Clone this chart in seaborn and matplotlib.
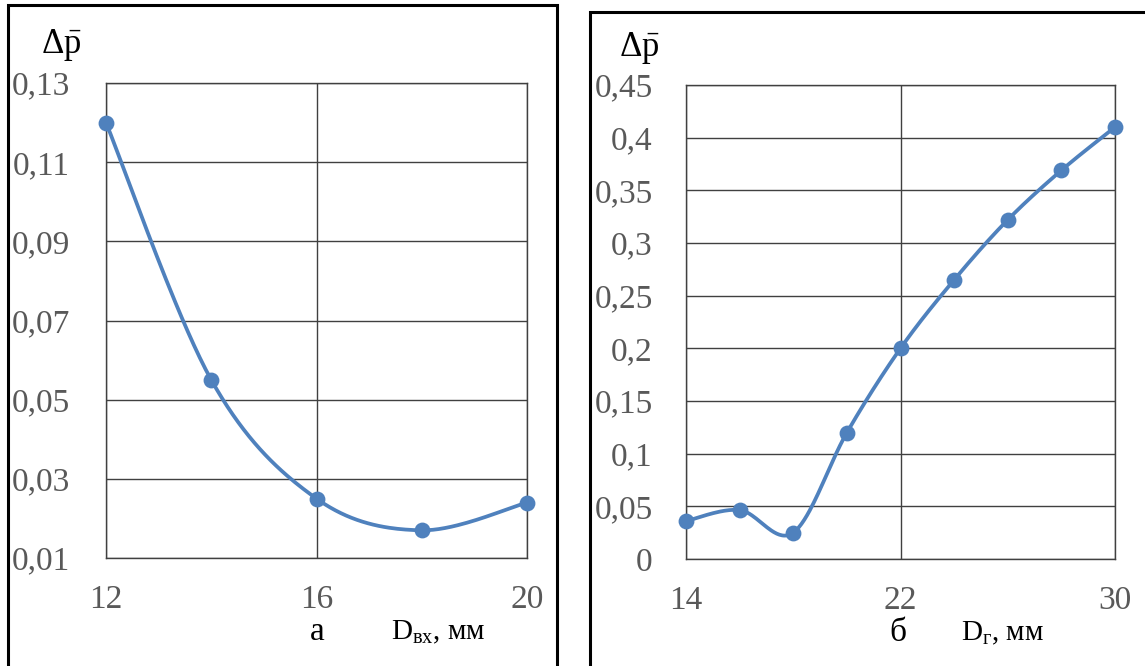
import numpy as np
import pandas as pd
import matplotlib
matplotlib.use("Agg")
import matplotlib.pyplot as plt
from matplotlib.patches import Rectangle
import seaborn as sns

# data
d_in = [12, 14, 16, 18, 20]
dp_in = [0.120, 0.055, 0.025, 0.017, 0.024]

d_g = [14, 16, 18, 20, 22, 24, 26, 28, 30]
dp_g = [0.036, 0.0465, 0.025, 0.120, 0.200, 0.265, 0.322, 0.369, 0.410]

yticks_a = [0.01, 0.03, 0.05, 0.07, 0.09, 0.11, 0.13]
yticks_b = [0, 0.05, 0.1, 0.15, 0.2, 0.25, 0.3, 0.35, 0.4, 0.45]

sns.set_theme(style="white")
plt.rcParams['font.family'] = ['Liberation Serif', 'DejaVu Serif']
plt.rcParams['mathtext.fontset'] = 'custom'
plt.rcParams['mathtext.rm'] = 'Liberation Serif'
plt.rcParams['mathtext.it'] = 'Liberation Serif:italic'

BLUE = "#4F81BD"
GRID = "#404040"
TICK = "#595959"


def smooth(x, y, n=40):
    # excel-like smoothed line (catmull-rom bezier through the points)
    x = np.asarray(x, float)
    y = np.asarray(y, float)
    px = np.concatenate([[x[0]], x, [x[-1]]])
    py = np.concatenate([[y[0]], y, [y[-1]]])
    xs, ys = [], []
    t = np.linspace(0, 1, n)
    for i in range(1, len(px) - 2):
        p0 = np.array([px[i], py[i]])
        p3 = np.array([px[i + 1], py[i + 1]])
        p1 = p0 + (np.array([px[i + 1], py[i + 1]]) - np.array([px[i - 1], py[i - 1]])) / 6
        p2 = p3 - (np.array([px[i + 2], py[i + 2]]) - np.array([px[i], py[i]])) / 6
        b = ((1 - t) ** 3)[:, None] * p0 + (3 * (1 - t) ** 2 * t)[:, None] * p1 \
            + (3 * (1 - t) * t ** 2)[:, None] * p2 + (t ** 3)[:, None] * p3
        xs.append(b[:, 0])
        ys.append(b[:, 1])
    return np.concatenate(xs), np.concatenate(ys)


def fmt(v):
    s = ("%.2f" % v).rstrip("0").rstrip(".")
    return s.replace(".", ",")


fig = plt.figure(figsize=(11.45, 6.66), dpi=100)
W, H = 1145, 666

# outer frames
fig.patches.append(Rectangle((8 / W, -0.05), (557 - 8) / W, 1.05 - 5 / H,
                             transform=fig.transFigure, fill=False,
                             edgecolor="black", linewidth=2.2))
fig.patches.append(Rectangle((590 / W, -0.05), 0.5, 1.05 - 12 / H,
                             transform=fig.transFigure, fill=False,
                             edgecolor="black", linewidth=2.2))

ax1 = fig.add_axes([106 / W, 1 - 558 / H, (527 - 106) / W, (558 - 83) / H])
ax2 = fig.add_axes([686 / W, 1 - 559 / H, (1115 - 686) / W, (559 - 85) / H])

panels = [
    (ax1, d_in, dp_in, [12, 16, 20], yticks_a, (12, 20), (0.01, 0.13), 26),
    (ax2, d_g, dp_g, [14, 22, 30], yticks_b, (14, 30), (0, 0.45), 24),
]

for ax, x, y, xt, yt, xl, yl, ypad in panels:
    sx, sy = smooth(x, y)
    ax.plot(sx, sy, color=BLUE, linewidth=2.7, zorder=3, clip_on=False)
    df = pd.DataFrame({"x": x, "y": y})
    sns.scatterplot(data=df, x="x", y="y", ax=ax, color=BLUE, s=130,
                    edgecolor=BLUE, linewidth=0, zorder=4, clip_on=False)
    ax.set_xlim(*xl)
    ax.set_ylim(*yl)
    ax.set_xticks(xt)
    ax.set_yticks(yt)
    ax.set_yticklabels([fmt(v) for v in yt])
    ax.set_xticklabels([str(v) for v in xt])
    ax.grid(True, color=GRID, linewidth=1.0)
    ax.set_axisbelow(True)
    for sp in ax.spines.values():
        sp.set_visible(True)
        sp.set_color(GRID)
        sp.set_linewidth(1.0)
    ax.tick_params(length=0, labelsize=24, labelcolor=TICK)
    ax.tick_params(axis="y", pad=ypad)
    ax.tick_params(axis="x", pad=19)
    ax.set_xlabel("")
    ax.set_ylabel("")

# axis titles and panel letters
fig.text(41 / W, 1 - 45 / H, r"$\Delta\bar{\mathrm{p}}$", fontsize=25,
         color="black", ha="left", va="center")
fig.text(619 / W, 1 - 48 / H, r"$\Delta\bar{\mathrm{p}}$", fontsize=25,
         color="black", ha="left", va="center")

fig.text(317 / W, 1 - 632 / H, "а", fontsize=24, color="black",
         ha="center", va="center")
fig.text(391 / W, 1 - 632 / H, r"$\mathrm{D_{вх}}$, мм", fontsize=21,
         color="black", ha="left", va="center")

fig.text(898 / W, 1 - 633 / H, "б", fontsize=24, color="black",
         ha="center", va="center")
fig.text(961 / W, 1 - 633 / H, r"$\mathrm{D_{г}}$, мм", fontsize=21,
         color="black", ha="left", va="center")

fig.savefig("out.png", dpi=100)
